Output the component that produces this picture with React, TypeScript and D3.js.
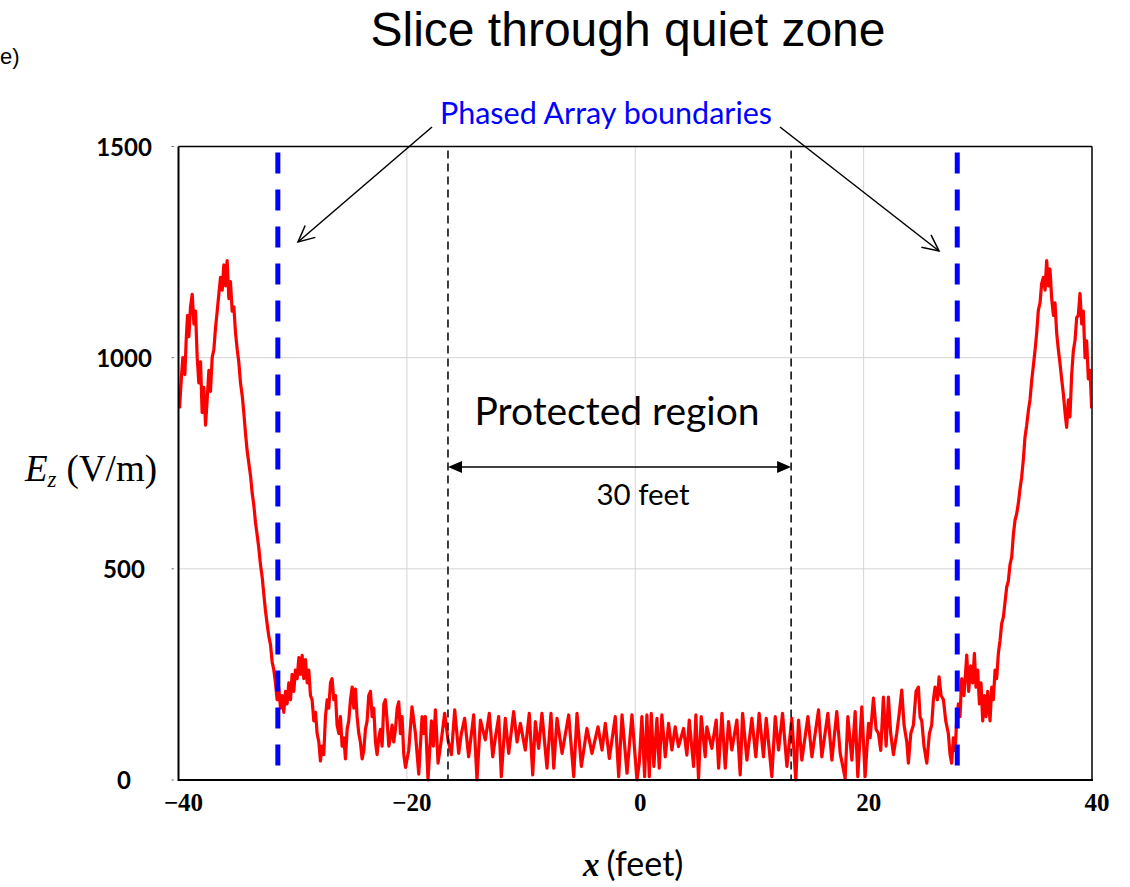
import React from 'react';
import * as d3 from 'd3';

// E_z (V/m) against x (feet), segment by segment
const leftPeaks: [number, number][] = [
  [-39.91, 880], [-39.73, 960], [-39.62, 1000], [-39.44, 960], [-39.33, 1040], [-39.21, 1100],
  [-39.09, 1050], [-38.95, 1120], [-38.8, 1150], [-38.65, 1080], [-38.51, 1110], [-38.36, 1000],
  [-38.22, 940], [-38.07, 990], [-37.93, 870], [-37.78, 930], [-37.63, 840], [-37.49, 900],
  [-37.34, 970], [-37.2, 920], [-37.05, 1000], [-36.9, 1020], [-36.76, 1070], [-36.61, 1110],
  [-36.47, 1150], [-36.32, 1190], [-36.17, 1160], [-36.03, 1220], [-35.88, 1170], [-35.74, 1230],
  [-35.59, 1140], [-35.45, 1180], [-35.3, 1110], [-35.15, 1120], [-35.01, 1060], [-34.86, 1020],
  [-34.72, 990], [-34.57, 940], [-34.42, 910], [-34.28, 870], [-34.13, 820], [-33.99, 780],
  [-33.84, 750], [-33.69, 720], [-33.55, 680], [-33.4, 650], [-33.26, 610], [-33.11, 580],
  [-32.97, 550], [-32.82, 510], [-32.67, 480], [-32.53, 440], [-32.38, 400], [-32.24, 370],
  [-32.09, 340], [-31.94, 320], [-31.8, 280], [-31.65, 260], [-31.51, 230], [-31.36, 190],
];

const leftShoulder: [number, number][] = [
  [-31.22, 220], [-31.07, 170], [-30.92, 200], [-30.78, 160], [-30.63, 210], [-30.49, 180],
  [-30.34, 230], [-30.19, 190], [-30.05, 250], [-29.9, 210], [-29.76, 260], [-29.61, 240],
  [-29.46, 290], [-29.32, 250], [-29.17, 295], [-29.03, 240], [-28.88, 285], [-28.73, 230],
  [-28.59, 260], [-28.44, 200], [-28.3, 190], [-28.15, 140], [-28.0, 160], [-27.86, 110],
  [-27.71, 90], [-27.57, 45], [-27.42, 80], [-27.28, 60], [-27.13, 150], [-26.98, 190],
  [-26.84, 170], [-26.69, 230], [-26.55, 240], [-26.4, 190], [-26.25, 200], [-26.11, 130],
  [-25.96, 110], [-25.82, 150], [-25.67, 80], [-25.52, 100], [-25.38, 50], [-25.23, 120],
  [-25.09, 140], [-24.94, 190], [-24.79, 220], [-24.65, 170], [-24.5, 215], [-24.36, 150],
  [-24.21, 110], [-24.07, 90], [-23.92, 50], [-23.77, 70], [-23.63, 120], [-23.48, 140],
  [-23.34, 200], [-23.19, 210], [-23.04, 150], [-22.9, 170], [-22.75, 90], [-22.61, 60],
  [-22.46, 100], [-22.31, 120], [-22.17, 80], [-22.02, 180], [-21.88, 190], [-21.73, 140],
  [-21.58, 80], [-21.44, 100], [-21.29, 130], [-21.15, 90], [-21.0, 120], [-20.85, 170],
  [-20.71, 185], [-20.56, 110], [-20.42, 150], [-20.27, 60], [-20.12, 30],
];

const centreLeft: [number, number][] = [
  [-19.84, 70], [-19.55, 173], [-19.25, 110], [-18.96, 14], [-18.67, 150], [-18.52, 110],
  [-18.38, 150], [-18.15, 0], [-17.85, 140], [-17.68, 80], [-17.5, 166], [-17.27, 40],
  [-16.98, 95], [-16.69, 158], [-16.4, 95], [-16.1, 60], [-15.81, 166], [-15.46, 63],
  [-15.23, 110], [-14.94, 146], [-14.59, 55], [-14.15, 154], [-13.86, 0], [-13.56, 142],
  [-13.13, 95], [-12.78, 158], [-12.48, 55], [-12.25, 100], [-11.96, 150], [-11.73, 8],
  [-11.38, 146], [-11.08, 63], [-10.65, 162], [-10.35, 90], [-10.06, 134], [-9.63, 71],
  [-9.28, 158], [-8.98, 12], [-8.75, 138], [-8.46, 75], [-8.17, 158], [-7.73, 28],
  [-7.38, 158], [-7.14, 28], [-6.85, 146], [-6.41, 63], [-5.83, 154], [-5.39, 8],
  [-5.1, 158], [-4.72, 32], [-4.23, 122], [-3.79, 63], [-3.26, 126], [-2.91, 71],
  [-2.62, 134], [-2.27, 51], [-1.75, 150], [-1.45, 8], [-1.16, 154], [-0.72, 16],
  [-0.29, 154], [0.15, 0],
];

const centreRight: [number, number][] = [
  [0.35, 40], [0.58, 150], [0.82, 8], [1.02, 154], [1.23, 8], [1.4, 158], [1.63, 32],
  [1.9, 146], [2.1, 28], [2.33, 154], [2.63, 55], [2.92, 134], [3.21, 71], [3.5, 126],
  [3.79, 79], [4.23, 122], [4.52, 59], [4.73, 142], [5.11, 32], [5.31, 154], [5.54, 4],
  [5.78, 150], [6.13, 55], [6.27, 126], [6.71, 75], [7.09, 142], [7.3, 28], [7.59, 158],
  [7.88, 28], [8.17, 138], [8.46, 71], [8.9, 142], [9.19, 12], [9.4, 158], [9.78, 47],
  [10.21, 146], [10.56, 55], [10.85, 158], [11.23, 55], [11.47, 146], [11.96, 8],
  [12.26, 150], [12.55, 71], [12.9, 158], [13.28, 32], [13.71, 146], [14.06, 0],
  [14.3, 142], [14.59, 47], [15.12, 150], [15.47, 55], [16.05, 166], [16.34, 55],
  [16.87, 158], [17.22, 47], [17.65, 162], [17.95, 63], [18.38, 4], [18.62, 150],
  [18.97, 47], [19.26, 162], [19.49, 8], [19.84, 173], [20.13, 8], [20.43, 134],
];

const rightShoulder: [number, number][] = [
  [20.57, 100], [20.86, 194], [21.09, 120], [21.3, 110], [21.5, 70], [21.73, 196],
  [21.97, 80], [22.17, 196], [22.37, 110], [22.61, 60], [22.9, 110], [23.13, 160],
  [23.34, 213], [23.54, 130], [23.78, 90], [23.92, 40], [24.13, 110], [24.36, 130],
  [24.59, 210], [24.8, 220], [24.94, 150], [25.09, 140], [25.29, 80], [25.53, 40],
  [25.76, 110], [25.96, 130], [26.11, 190], [26.26, 220], [26.46, 190], [26.61, 244],
  [26.78, 200], [26.99, 190], [27.19, 140], [27.42, 110], [27.57, 60], [27.71, 40],
  [27.86, 100], [28.01, 70], [28.15, 140], [28.3, 180], [28.44, 150], [28.59, 240],
  [28.79, 200], [29.03, 296], [29.2, 210], [29.38, 270], [29.55, 230], [29.7, 300],
  [29.84, 220], [29.99, 260], [30.14, 180], [30.28, 230], [30.43, 140], [30.57, 200],
  [30.72, 150], [30.87, 210], [31.07, 140], [31.22, 220], [31.36, 190], [31.51, 260],
  [31.65, 240],
];

const rightPeaks: [number, number][] = [
  [31.8, 300], [31.95, 331], [32.09, 370], [32.24, 386], [32.38, 420], [32.53, 457],
  [32.67, 470], [32.82, 510], [32.97, 528], [33.11, 580], [33.26, 615], [33.4, 630],
  [33.55, 655], [33.7, 690], [33.84, 717], [33.99, 760], [34.13, 811], [34.28, 840],
  [34.43, 875], [34.57, 900], [34.72, 946], [34.86, 980], [35.01, 1017], [35.16, 1060],
  [35.3, 1112], [35.45, 1130], [35.59, 1175], [35.74, 1190], [35.89, 1160], [36.03, 1230],
  [36.18, 1170], [36.32, 1210], [36.47, 1140], [36.62, 1100], [36.76, 1130], [36.91, 1057],
  [37.05, 1020], [37.2, 986], [37.34, 950], [37.49, 915], [37.64, 870], [37.78, 835],
  [37.93, 900], [38.07, 860], [38.22, 960], [38.37, 1017], [38.51, 1040], [38.66, 1095],
  [38.8, 1100], [38.95, 1152], [39.1, 1080], [39.24, 1110], [39.39, 1000], [39.53, 1040],
  [39.68, 950], [39.83, 970], [39.97, 880],
];

const xTicks = [-40, -20, 0, 20, 40];
const yTicks = [0, 500, 1000, 1500];
const xGrid = [-20, 0, 20];
const yGrid = [500, 1000];
const arrayBounds = [-31.3, 28.2];
const protectedBounds = [-16.4, 13.65];

const sans = 'Lato, "Open Sans", sans-serif';
const serif = '"Liberation Serif", "DejaVu Serif", serif';

function openHead(x1: number, y1: number, x2: number, y2: number, len = 18, ang = 0.45) {
  const a = Math.atan2(y2 - y1, x2 - x1);
  const p1 = [x2 - len * Math.cos(a - ang), y2 - len * Math.sin(a - ang)];
  const p2 = [x2 - len * Math.cos(a + ang), y2 - len * Math.sin(a + ang)];
  return `M${p1[0]},${p1[1]}L${x2},${y2}L${p2[0]},${p2[1]}`;
}

export default function App() {
  const x = d3.scaleLinear().domain([-40, 40]).range([178.5, 1092]);
  const y = d3.scaleLinear().domain([0, 1500]).range([780, 146.5]);
  const [x0, x1] = x.range();
  const [y0, y1] = y.range();

  const series = [...leftPeaks, ...leftShoulder, ...centreLeft, ...centreRight, ...rightShoulder, ...rightPeaks];
  const line = d3.line<[number, number]>().x(d => x(d[0])).y(d => y(d[1]));

  const fmt = (v: number) => (v < 0 ? '\u2212' + Math.abs(v) : String(v));

  const pa = x(protectedBounds[0]);
  const pb = x(protectedBounds[1]);
  const ay = 467;

  return (
    <svg width={1130} height={887} style={{ position: 'absolute', left: 0, top: 0, background: '#fff' }}>
      <rect width={1130} height={887} fill="#fff" />
      <text x={0} y={64} fontFamily='"Liberation Sans", Arial, sans-serif' fontSize={22}>e)</text>
      <text x={628} y={46} textAnchor="middle" fontFamily='"Liberation Sans", Arial, sans-serif' fontSize={48}>
        Slice through quiet zone
      </text>

      {/* grid */}
      {xGrid.map(v => (
        <line key={'gx' + v} x1={x(v)} x2={x(v)} y1={y1} y2={y0} stroke="#d4d4d4" strokeWidth={1} />
      ))}
      {yGrid.map(v => (
        <line key={'gy' + v} x1={x0} x2={x1} y1={y(v)} y2={y(v)} stroke="#d4d4d4" strokeWidth={1} />
      ))}

      <defs>
        <clipPath id="plotClip">
          <rect x={x0} y={y1} width={x1 - x0} height={y0 - y1 + 2} />
        </clipPath>
      </defs>

      {/* red field curve */}
      <path d={line(series) || ''} fill="none" stroke="#ff0000" strokeWidth={3.2} strokeLinejoin="round" clipPath="url(#plotClip)" />

      {/* protected region boundaries */}
      {protectedBounds.map(v => (
        <line key={'pb' + v} x1={x(v)} x2={x(v)} y1={y1 + 4} y2={y0} stroke="#000" strokeWidth={1.5} strokeDasharray="8,5" />
      ))}

      {/* phased array boundaries */}
      {arrayBounds.map(v => (
        <line key={'ab' + v} x1={x(v)} x2={x(v)} y1={y1 + 6} y2={y0 - 4} stroke="#0000ff" strokeWidth={5} strokeDasharray="21,16" />
      ))}

      {/* frame */}
      <line x1={x0} x2={x1} y1={y1} y2={y1} stroke="#000" strokeWidth={1.5} />
      <line x1={x1} x2={x1} y1={y1} y2={y0} stroke="#000" strokeWidth={1.5} />
      <line x1={x0} x2={x0} y1={y1} y2={y0 + 1} stroke="#000" strokeWidth={2} />
      <line x1={x0} x2={x1 + 1} y1={y0} y2={y0} stroke="#000" strokeWidth={2} />

      {/* y ticks */}
      {yTicks.map(v => (
        <g key={'yt' + v}>
          <line x1={171.5} x2={174} y1={y(v)} y2={y(v)} stroke="#777" strokeWidth={1} />
          <text x={124} y={y(v) + 9} textAnchor="middle" fontFamily={sans} fontSize={24} fontWeight={700}>
            {v}
          </text>
        </g>
      ))}

      {/* x ticks */}
      {xTicks.map(v => (
        <text key={'xt' + v} x={x(v) + 5} y={811} textAnchor="middle" fontFamily={serif} fontSize={25} fontWeight={700}>
          {fmt(v)}
        </text>
      ))}

      {/* axis titles */}
      <text x={583} y={876} fontFamily={serif} fontSize={33}>
        <tspan fontStyle="italic" fontWeight={700}>x</tspan>
        <tspan fontFamily={sans} fontSize={34} dx={7}>(feet)</tspan>
      </text>
      <text x={25} y={481} fontFamily={serif} fontSize={37}>
        <tspan fontStyle="italic">E</tspan>
        <tspan fontStyle="italic" fontSize={23} dy={6}>z</tspan>
        <tspan dy={-6} dx={10}>(V/m)</tspan>
      </text>

      {/* protected region annotation */}
      <text x={617} y={425} textAnchor="middle" fontFamily={sans} fontSize={39}>Protected region</text>
      <line x1={pa + 10} x2={pb - 10} y1={ay} y2={ay} stroke="#000" strokeWidth={1.5} />
      <path d={`M${pa},${ay}L${pa + 14},${ay - 6}L${pa + 14},${ay + 6}Z`} fill="#000" />
      <path d={`M${pb},${ay}L${pb - 14},${ay - 6}L${pb - 14},${ay + 6}Z`} fill="#000" />
      <text x={643} y={505} textAnchor="middle" fontFamily={sans} fontSize={29.5}>30 feet</text>

      {/* phased array annotation */}
      <text x={606} y={124} textAnchor="middle" fontFamily={sans} fontSize={30.5} fill="#0000ff">Phased Array boundaries</text>
      <line x1={432} y1={127} x2={298} y2={242} stroke="#000" strokeWidth={1.5} />
      <path d={openHead(432, 127, 298, 242)} fill="none" stroke="#000" strokeWidth={1.5} />
      <line x1={780} y1={127} x2={939} y2={251} stroke="#000" strokeWidth={1.5} />
      <path d={openHead(780, 127, 939, 251)} fill="none" stroke="#000" strokeWidth={1.5} />
    </svg>
  );
}
